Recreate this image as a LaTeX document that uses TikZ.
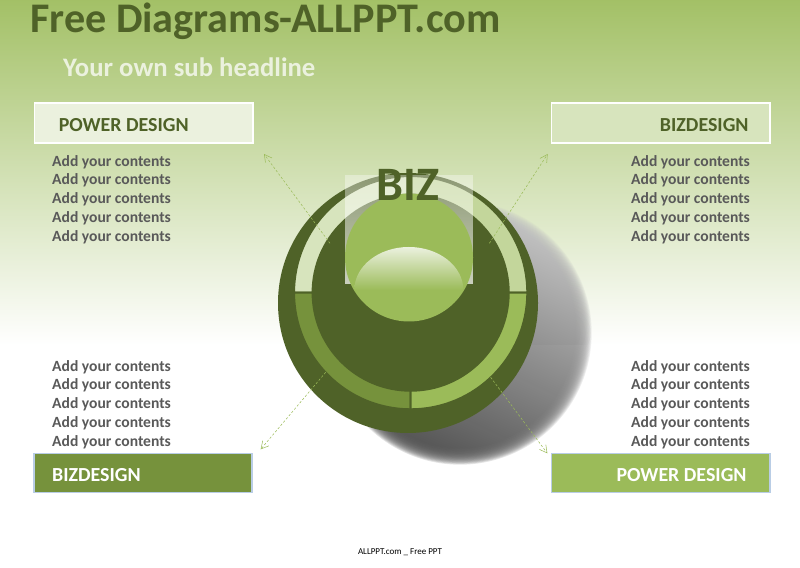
\documentclass[tikz,border=0pt]{standalone}
\usepackage{fontspec}
\setmainfont{Carlito}
\usepackage{xcolor}
\usetikzlibrary{shapes,fit,calc,positioning,fadings,arrows.meta}

\definecolor{darkgreen}{HTML}{4F6228}
\definecolor{midgreen}{HTML}{76923C}
\definecolor{ballgreen}{HTML}{9BBB59}
\definecolor{softgreen}{HTML}{C3D69B}
\definecolor{palegreen}{HTML}{D7E4BD}
\definecolor{mistgreen}{HTML}{EBF1DE}
\definecolor{boxblue}{HTML}{B9CDE5}
\definecolor{bodygray}{HTML}{595959}

\tikzfading[name=glassfade, top color=transparent!65, bottom color=transparent!30]

\tikzset{
  headbox/.style={draw=white, line width=1.6pt, minimum width=6.55cm, minimum height=1.2cm, inner sep=0pt},
  footbox/.style={draw=boxblue, line width=1.6pt, minimum width=6.55cm, minimum height=1.17cm, inner sep=0pt},
  headtext/.style={font=\fontsize{17}{17}\selectfont\bfseries, inner sep=0pt, yshift=-1.5pt},
  contents/.style={font=\fontsize{13.3}{16}\selectfont\bfseries, text=bodygray, align=left, inner sep=0pt, anchor=north west},
  dasharrow/.style={-{Straight Barb[length=2.2mm,width=2.4mm]}, draw=ballgreen, dash pattern=on 2pt off 1.6pt, line width=0.45pt},
  shadowdisc/.style={top color=black!22, bottom color=black!72, shading angle=-25}
}
\newcommand{\fivelines}{Add your contents\\Add your contents\\Add your contents\\Add your contents\\Add your contents}
\newcommand{\ringpart}[3]{\fill[#3, draw=darkgreen, line width=1.8pt] ($(ring)+(#1:3.5)$) arc[start angle=#1, end angle=#2, radius=3.5] -- ($(ring)+(#2:2.94)$) arc[start angle=#2, end angle=#1, radius=2.94] -- cycle;}

\begin{document}
\begin{tikzpicture}
\useasboundingbox (0,0) rectangle (24,17.01);
\shade[top color=ballgreen!92!white, middle color=softgreen!85!white, bottom color=white] (0,6.66) rectangle (24,17.01);

\coordinate(shadow) at (13.8,7.02);
\coordinate(big) at (12.24,7.92);
\coordinate(ring) at (12.32,8.23);
\coordinate(ball) at (12.27,9.285);

% shadow and disc
\foreach \rad in {3.95,3.925,...,3.45}{
  \begin{scope}
    \clip (shadow) circle (\rad);
    \shade[shadowdisc, opacity=0.15] (9.7,2.92) rectangle (17.9,11.12);
  \end{scope}
}
\fill[darkgreen] (big) circle (3.9);
\ringpart{90}{180}{palegreen}
\ringpart{0}{90}{softgreen}
\ringpart{180}{270}{midgreen}
\ringpart{270}{360}{ballgreen}
\fill[darkgreen] (ring) circle (2.94);

% glass square and ball
\fill[white, path fading=glassfade] (10.35,8.49) rectangle (14.18,11.76);
\fill[ballgreen] (ball) circle (1.92);
\shade[top color=mistgreen, bottom color=ballgreen] (10.63,8.31) arc[start angle=180, end angle=0, x radius=1.635, y radius=1.29] -- cycle;
\node[font=\fontsize{41}{41}\selectfont\bfseries, text=darkgreen, inner sep=0pt](bizword) at (12.23,11.45) {BIZ};

% headlines
\node[font=\fontsize{36}{36}\selectfont\bfseries, text=darkgreen, inner sep=0pt, anchor=west](title) at (0.9,16.37) {Free Diagrams-ALLPPT.com};
\node[font=\fontsize{22.8}{22.8}\selectfont\bfseries, text=mistgreen, inner sep=0pt, anchor=west](subtitle) at (1.89,15) {Your own sub headline};

% boxes
\node[headbox, fill=mistgreen](boxa) at (4.31,13.31) {};
\node[headbox, fill=palegreen](boxb) at (19.82,13.31) {};
\node[footbox, fill=midgreen](boxc) at (4.29,2.82) {};
\node[footbox, fill=ballgreen](boxd) at (19.82,2.82) {};

\node[headtext, text=darkgreen, right=0.75cm of boxa.west](texta) {POWER DESIGN};
\node[headtext, text=darkgreen, left=0.66cm of boxb.east](textb) {BIZDESIGN};
\node[headtext, text=white, right=0.57cm of boxc.west](textc) {BIZDESIGN};
\node[headtext, text=white, left=0.72cm of boxd.east](textd) {POWER DESIGN};

\node[contents](conta) at (1.56,12.36) {\fivelines};
\node[contents](contb) at (18.93,12.36) {\fivelines};
\node[contents](contc) at (1.56,6.21) {\fivelines};
\node[contents](contd) at (18.93,6.21) {\fivelines};

\node[font=\fontsize{7.7}{7.7}\selectfont, inner sep=0pt](foot) at (12,0.45) {ALLPPT.com \_ Free PPT};

% arrows
\coordinate(a1) at (9.9,9.71);
\coordinate(a2) at (7.92,12.39);
\coordinate(b1) at (14.68,9.71);
\coordinate(b2) at (16.43,12.39);
\coordinate(c1) at (9.77,5.84);
\coordinate(c2) at (7.82,3.53);
\coordinate(d1) at (14.72,5.69);
\coordinate(d2) at (16.42,3.41);

\draw[dasharrow] (a1) -- (a2);
\draw[dasharrow] (b1) -- (b2);
\draw[dasharrow] (c1) -- (c2);
\draw[dasharrow] (d1) -- (d2);
\end{tikzpicture}
\end{document}
